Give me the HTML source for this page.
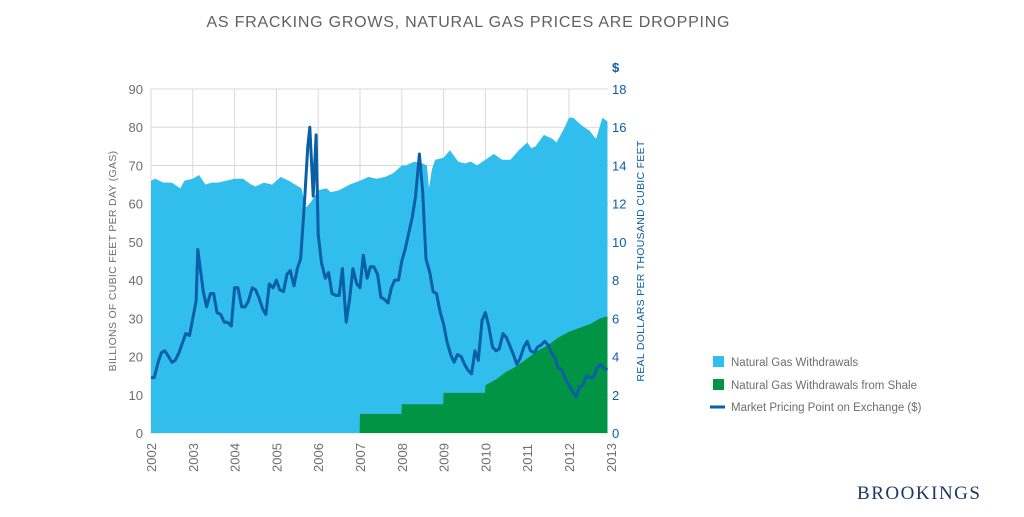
<!DOCTYPE html>
<html><head><meta charset="utf-8"><style>
body{margin:0;background:#fff;width:1024px;height:512px;overflow:hidden;font-family:"Liberation Sans",sans-serif}
svg text{font-family:"Liberation Sans",sans-serif}
</style></head><body>
<svg id="c" width="1024" height="512" viewBox="0 0 1024 512"></svg>
<script>
const years=[2002,2003,2004,2005,2006,2007,2008,2009,2010,2011,2012,2013];
const leftTicks=[0,10,20,30,40,50,60,70,80,90];
const rightTicks=[0,2,4,6,8,10,12,14,16,18];
const wdDates=[2002,2002.1,2002.3,2002.5,2002.7,2002.8,2003.0,2003.15,2003.3,2003.45,2003.6,2003.8,2004.0,2004.2,2004.4,2004.5,2004.7,2004.9,2005.1,2005.3,2005.45,2005.6,2005.7,2005.8,2006.0,2006.2,2006.3,2006.5,2006.75,2007.0,2007.2,2007.4,2007.6,2007.8,2008.0,2008.1,2008.3,2008.5,2008.6,2008.65,2008.72,2008.8,2009.0,2009.15,2009.35,2009.5,2009.65,2009.8,2010.0,2010.2,2010.4,2010.6,2010.8,2011.0,2011.1,2011.2,2011.4,2011.6,2011.7,2011.9,2012.0,2012.1,2012.3,2012.5,2012.6,2012.65,2012.8,2012.92];
const wdValues=[66,66.5,65.5,65.5,64,66,66.5,67.5,65,65.5,65.5,66,66.5,66.5,65,64.5,65.5,65,67,66,65,64,59,60,63.5,64,63,63.5,65,66,67,66.5,67,68,70,70,71,70.5,70,64,69,71.5,72,74,71,70.5,71,70,71.5,73,71.5,71.5,74,76,74.5,75,78,77,76,80,82.5,82.5,80.5,79,77.5,77,82.5,81.5];
const shDates=[2002,2006.99,2007,2007.99,2008.0,2008.99,2009.0,2009.99,2010.0,2010.25,2010.5,2010.75,2011.0,2011.25,2011.5,2011.75,2012.0,2012.25,2012.5,2012.75,2012.92];
const shValues=[0,0,5,5,7.5,7.5,10.5,10.5,12.5,14,16,17.5,19.5,21.5,23,25,26.5,27.5,28.5,30,30.5];
const prDates=[2002.0,2002.08,2002.17,2002.25,2002.33,2002.42,2002.5,2002.58,2002.67,2002.75,2002.83,2002.92,2003.0,2003.08,2003.12,2003.25,2003.33,2003.42,2003.5,2003.58,2003.67,2003.75,2003.83,2003.92,2004.0,2004.08,2004.17,2004.25,2004.33,2004.42,2004.5,2004.58,2004.67,2004.75,2004.83,2004.92,2005.0,2005.08,2005.17,2005.25,2005.33,2005.42,2005.5,2005.58,2005.67,2005.75,2005.8,2005.88,2005.95,2006.0,2006.08,2006.17,2006.25,2006.33,2006.42,2006.5,2006.58,2006.67,2006.75,2006.83,2006.92,2007.0,2007.08,2007.17,2007.25,2007.33,2007.42,2007.5,2007.58,2007.67,2007.75,2007.83,2007.92,2008.0,2008.08,2008.17,2008.25,2008.33,2008.42,2008.5,2008.58,2008.67,2008.75,2008.83,2008.92,2009.0,2009.08,2009.17,2009.25,2009.33,2009.42,2009.5,2009.58,2009.67,2009.75,2009.83,2009.92,2010.0,2010.08,2010.17,2010.25,2010.33,2010.42,2010.5,2010.58,2010.67,2010.75,2010.83,2010.92,2011.0,2011.08,2011.17,2011.25,2011.33,2011.42,2011.5,2011.58,2011.67,2011.75,2011.83,2011.92,2012.0,2012.08,2012.17,2012.25,2012.33,2012.42,2012.5,2012.58,2012.67,2012.75,2012.83,2012.92];
const prValues=[2.9,2.9,3.7,4.2,4.3,4.0,3.7,3.8,4.2,4.7,5.2,5.1,6.0,6.9,9.6,7.4,6.6,7.3,7.3,6.3,6.2,5.8,5.8,5.6,7.6,7.6,6.6,6.6,6.9,7.6,7.5,7.1,6.5,6.2,7.8,7.6,8.0,7.5,7.4,8.3,8.5,7.7,8.6,9.1,12.0,15.0,16.0,12.4,15.6,10.4,8.9,8.1,8.4,7.3,7.2,7.2,8.6,5.8,7.0,8.6,7.8,7.6,9.3,8.1,8.7,8.7,8.3,7.1,7.0,6.8,7.6,8.0,8.0,9.0,9.6,10.5,11.3,12.4,14.6,12.6,9.1,8.4,7.4,7.3,6.3,5.7,4.8,4.1,3.7,4.1,4.0,3.6,3.3,3.1,4.3,3.8,5.9,6.3,5.6,4.5,4.3,4.4,5.2,5.0,4.6,4.1,3.6,3.9,4.5,4.8,4.3,4.2,4.5,4.6,4.8,4.6,4.2,3.9,3.4,3.3,2.8,2.5,2.2,1.9,2.4,2.5,3.0,2.9,2.9,3.4,3.6,3.4,3.3];

const S=document.getElementById('c');const NS='http://www.w3.org/2000/svg';
const X0=151,X1=569,Y0=433,YT=89,XR=608;
const x=d=>X0+(d-2002)*(X1-X0)/10;
const yl=v=>Y0-v*(Y0-YT)/90;
const yr=v=>Y0-v*(Y0-YT)/18;
function el(t,a,p){const e=document.createElementNS(NS,t);for(const k in a)e.setAttribute(k,a[k]);(p||S).appendChild(e);return e;}
function tx(s,a,name){const e=el('text',a);e.textContent=s;return e;}

tx('AS FRACKING GROWS, NATURAL GAS PRICES ARE DROPPING',{x:468,y:27,'text-anchor':'middle','font-size':16,fill:'#5f6062','textLength':523},'chart-title');
const g=el('g',{});

leftTicks.forEach(v=>el('line',{x1:X0,x2:XR,y1:yl(v),y2:yl(v),stroke:'#d9d9d9','stroke-width':1},g));
years.forEach(d=>{if(x(d)<=XR)el('line',{x1:x(d),x2:x(d),y1:YT,y2:Y0,stroke:'#d9d9d9','stroke-width':1},g);});
el('line',{x1:X0,x2:X0,y1:YT,y2:Y0,stroke:'#d9d9d9'},g);
let p='M'+x(wdDates[0])+','+Y0;wdDates.forEach((d,i)=>p+=' L'+x(d).toFixed(1)+','+yl(wdValues[i]).toFixed(1));p+=' L'+x(wdDates[wdDates.length-1]).toFixed(1)+','+Y0+'Z';
const a1=el('path',{d:p,fill:'#31beed'});

p='M'+x(shDates[0])+','+Y0;shDates.forEach((d,i)=>p+=' L'+x(d).toFixed(1)+','+yl(shValues[i]).toFixed(1));p+=' L'+x(shDates[shDates.length-1]).toFixed(1)+','+Y0+'Z';
const a2=el('path',{d:p,fill:'#009444'});

p='';prDates.forEach((d,i)=>p+=(i?' L':'M')+x(d).toFixed(1)+','+yr(prValues[i]).toFixed(1));
const ln=el('path',{d:p,fill:'none',stroke:'#0b5ea8','stroke-width':3,'stroke-linejoin':'round'});

leftTicks.forEach(v=>tx(String(v),{x:143,y:yl(v)+5,'text-anchor':'end','font-size':13,fill:'#6d6e70'},'left-tick-label'));
rightTicks.forEach(v=>tx(String(v),{x:612,y:yr(v)+5,'font-size':13,fill:'#0b5ea8'},'right-tick-label'));
tx('$',{x:612,y:72,'font-size':13,fill:'#0b5ea8','font-weight':'bold'},'right-axis-unit');
years.forEach(d=>{const xx=Math.min(x(d),611);tx(String(d),{x:0,y:0,transform:`translate(${xx+5},472) rotate(-90)`,'font-size':13,fill:'#6d6e70'},'x-tick-label');});
tx('BILLIONS OF CUBIC FEET PER DAY (GAS)',{x:0,y:0,transform:'translate(116,261) rotate(-90)','text-anchor':'middle','font-size':10.5,fill:'#6d6e70','letter-spacing':'0.3'},'left-axis-title');
tx('REAL DOLLARS PER THOUSAND CUBIC FEET',{x:0,y:0,transform:'translate(644,261) rotate(-90)','text-anchor':'middle','font-size':10.5,fill:'#0b5ea8','letter-spacing':'0.3'},'right-axis-title');
const lg=[['#31beed','Natural Gas Withdrawals',362,'legend-withdrawals'],['#009444','Natural Gas Withdrawals from Shale',385,'legend-shale']];
lg.forEach(l=>{const r=el('rect',{x:713,y:l[2]-6,width:11,height:11,fill:l[0]});tx(l[1],{x:731,y:l[2]+4,'font-size':11.5,fill:'#6d6e70'},l[3]);});
const ll=el('line',{x1:710,x2:725,y1:407,y2:407,stroke:'#0b5ea8','stroke-width':3});

tx('Market Pricing Point on Exchange ($)',{x:731,y:411,'font-size':11.5,fill:'#6d6e70'},'legend-price');
const b=tx('BROOKINGS',{x:857,y:499,'font-size':19,fill:'#1d3767','textLength':123});
b.setAttribute('font-family','"Liberation Serif",serif');b.setAttribute('style','font-family:"Liberation Serif",serif');

</script>
</body></html>
